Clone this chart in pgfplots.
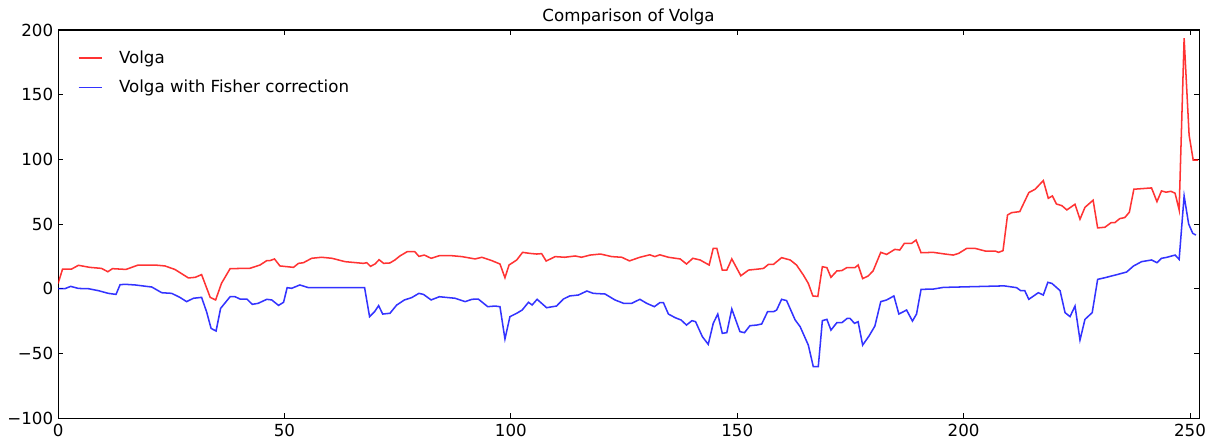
\documentclass[border=0pt]{standalone}
\usepackage{pgfplots}
\pgfplotsset{compat=1.18}
\usepackage{fontspec}
\setmainfont{DejaVu Sans}
\begin{document}
\begin{tikzpicture}
\begin{axis}[
  name=ax,
  scale only axis,
  width=821.5pt, height=279.4pt,
  xmin=0, xmax=252, ymin=-100, ymax=200,
  xtick={0,50,100,150,200,250},
  ytick={-100,-50,0,50,100,150,200},
  yticklabels={−100,−50,0,50,100,150,200},
  tick align=inside, tick pos=both,
  major tick length=3.5pt,
  tick style={black, line width=0.6pt},
  axis line style={black, line width=0.8pt},
  /pgf/number format/assume math mode=true,
  tick label style={font=\fontsize{12}{14}\selectfont},
  xticklabel style={yshift=-1pt},
  title={Comparison of Volga},
  title style={font=\fontsize{12}{14}\selectfont, yshift=-6pt},
  legend style={at={(0.0135,0.962)}, anchor=north west, draw=none, fill=none,
    font=\fontsize{12}{14}\selectfont, row sep=6.5pt},
  legend cell align=left,
  legend image code/.code={\draw[#1] (0pt,0pt) -- (17pt,0pt); \path (26.5pt,0pt);},
  every axis plot/.append style={line width=1.1pt, opacity=0.8},
]
\addplot[red, mark=none] coordinates {
(0,4) (1,15.2) (3,15.2) (4.5,18.1) (7,16.5) (9.6,15.7) (11,13.1) (12,15.5) (15,14.9)
(17.7,18.3) (21.4,18.3) (23.6,17.6) (25.8,14.9) (28.8,8.3) (30.3,8.8) (31.7,10.9)
(33.6,-6.7) (34.8,-8.7) (36.1,4.2) (38,15.5) (42.4,15.8) (44.6,18.3) (46.1,21.7)
(46.8,21.7) (47.8,23) (49,17.6) (52,16.5) (53.1,19.6) (54.2,20.1) (56,23.5) (58.2,24.3)
(60.5,23.5) (63.4,20.9) (67.4,19.6) (68.2,20.1) (69,17.3) (70,19.1) (70.9,22.4)
(71.9,19.6) (73.3,19.9) (74.4,22.2) (75.5,25.3) (77.1,28.6) (78.8,28.6) (79.7,25)
(80.9,26) (82.4,23.5) (84.2,25.5) (87,25.5) (89.2,24.8) (92.1,23) (93.6,24.3)
(95.8,21.7) (97.6,19.1) (98.7,8.5) (99.6,18.3) (101.3,22.2) (102.6,28.1) (104.2,27.3)
(105.7,26.8) (106.8,27.1) (107.8,21.4) (109.8,24.8) (111.9,24.3) (114.2,25.3)
(115.6,24.3) (117.5,26) (119.8,26.8) (122.3,24.8) (124.5,24.3) (126.2,21.5)
(128.5,24.3) (130.7,26.2) (131.8,24.8) (132.9,26.2) (134.8,24.3) (137.4,23)
(138.8,19.1) (140.2,23.5) (141.8,22.2) (143.8,18.3) (144.7,31.2) (145.5,31.2)
(146.7,14.4) (147.7,14.4) (148.8,23) (150.8,10) (152.5,14.4) (154.7,15.2) (155.8,15.7)
(156.9,18.8) (158,18.8) (159.8,24) (161.7,22.2) (163.1,18.3) (164.6,10.6) (165.7,4.1)
(166.7,-5.6) (167.8,-6) (168.8,17) (169.8,16.3) (170.7,8.8) (172,13.7) (173.1,14)
(174.2,16.3) (176,16.3) (176.7,18.3) (177.7,7.8) (178.9,9.8) (180,13.7) (181.7,28.1)
(183,26.5) (184.8,30.4) (185.9,29.9) (186.9,35) (188.5,35) (189.5,37.6) (190.6,27.8)
(193.3,28.1) (195.9,26.8) (197.7,26) (198.9,27.3) (200.7,31.2) (202.5,31.2)
(204.8,29.1) (207,29.1) (207.7,28.1) (208.7,29.4) (209.7,57) (210.6,58.8) (212.4,59.6)
(214.4,74.3) (215.8,76.9) (217.6,83.6) (218.7,69.9) (219.6,71.7) (220.5,65.5)
(221.7,64.2) (222.8,60.9) (224.6,65.3) (225.7,53.7) (226.8,62.9) (228.6,68.4)
(229.6,47) (231.2,47.5) (232.6,51.1) (233.4,51.1) (234.5,54.2) (235.6,55) (236.6,59.1)
(237.6,76.9) (241.5,77.9) (242.7,67.3) (243.7,75.6) (244.7,74.6) (245.8,75.3)
(246.7,73.8) (247.6,60.9) (248.7,193.6) (249.8,118.8) (250.7,99.5) (251.8,99.5)
};
\addlegendentry{Volga}
\addplot[blue, mark=none] coordinates {
(0,0) (1.5,0) (2.8,1.8) (4.5,0.2) (6.7,0) (8.9,-1.5) (11.1,-3.6) (12.8,-4.4) (13.7,3.1)
(14.8,3.4) (17,2.9) (20.7,1.3) (22.9,-3.1) (25.1,-3.6) (26.9,-6.7) (28.4,-10) (29.9,-7.4)
(31.7,-6.7) (32.8,-17.8) (33.8,-30.7) (34.9,-32.7) (35.9,-15.2) (38,-6.2) (39.1,-6.2)
(40.2,-8) (41.7,-8) (42.9,-12.1) (44.2,-11.3) (46.1,-8.2) (47.2,-8.7) (48.7,-12.9)
(49.8,-10.5) (50.6,0.8) (51.6,0.3) (53.4,2.9) (55.3,0.8) (67.7,0.8) (68.8,-21.6)
(69.9,-17.8) (70.8,-13.1) (71.7,-19.6) (73.3,-19) (74.8,-12.6) (76.5,-8.7) (78.1,-6.9)
(79.7,-3.6) (80.7,-4.4) (82.4,-8.7) (84.2,-6.2) (87.7,-7.4) (89.9,-10) (91.4,-8.2)
(92.8,-8) (94.9,-13.9) (96.5,-13.4) (97.6,-13.9) (98.7,-38.9) (99.8,-21.6) (101.3,-19)
(102.5,-16.5) (103.9,-10.5) (104.7,-12.6) (105.8,-8.2) (107.9,-14.7) (110.1,-13.4)
(111.6,-8) (113,-5.6) (114.9,-4.9) (116.8,-1.8) (118.2,-3.6) (120.8,-4.1) (123,-8.7)
(124.9,-11.3) (126.7,-11.3) (128.5,-8.2) (130,-11.3) (131.7,-13.9) (132.9,-10.8)
(133.7,-10.8) (134.8,-19.6) (136.3,-22.4) (137.6,-24.2) (138.8,-28.1) (140,-24.7)
(140.8,-25.5) (142.3,-37.1) (143.6,-43) (144.7,-26.8) (145.7,-19.6) (146.7,-34.5)
(147.7,-34) (148.8,-15.7) (150.6,-33.2) (151.6,-34) (152.8,-28.6) (154.3,-28.1)
(155.4,-27.3) (156.7,-17.8) (158,-17.8) (158.7,-16.5) (159.8,-8.2) (160.9,-9.2)
(162.8,-24.2) (163.9,-29.4) (165.7,-43.6) (166.8,-60.3) (167.9,-60.3) (168.8,-24.7)
(169.8,-23.7) (170.7,-32) (172,-26.3) (173.1,-26.3) (174.3,-22.9) (174.9,-22.9)
(175.9,-26.8) (176.7,-25.5) (177.7,-43.6) (179.1,-36.6) (180.4,-28.9) (181.7,-10)
(183,-8.7) (184.6,-5.6) (185.7,-19.6) (187.4,-16.5) (188.7,-25) (189.6,-19.6)
(190.6,-0.5) (193.3,-0.3) (195.5,1) (208,2.1) (209.1,2.1) (211.7,0.8) (212.6,-1.5)
(213.5,-1.5) (214.4,-8.2) (216.5,-3.1) (217.6,-4.9) (218.6,4.9) (219.5,4.1) (221.3,-1.5)
(222.4,-18.5) (223.5,-21.6) (224.6,-13.4) (225.7,-39.7) (226.8,-23.7) (228.4,-18.5)
(229.6,7.2) (231.2,8.5) (234.1,11.1) (236,12.9) (237.5,17.5) (239.3,20.9) (241.5,22.2)
(242.7,20.1) (243.7,23.5) (244.8,24.2) (246.7,26) (247.6,22.7) (248.7,71.7)
(249.7,50) (250.6,42.8) (251.3,41.5)
};
\addlegendentry{Volga with Fisher correction}
\end{axis}
\pgfresetboundingbox
\path ([shift={(-41.8pt,-18pt)}]ax.south west) rectangle ([shift={(8.6pt,21.6pt)}]ax.north east);
\end{tikzpicture}
\end{document}
